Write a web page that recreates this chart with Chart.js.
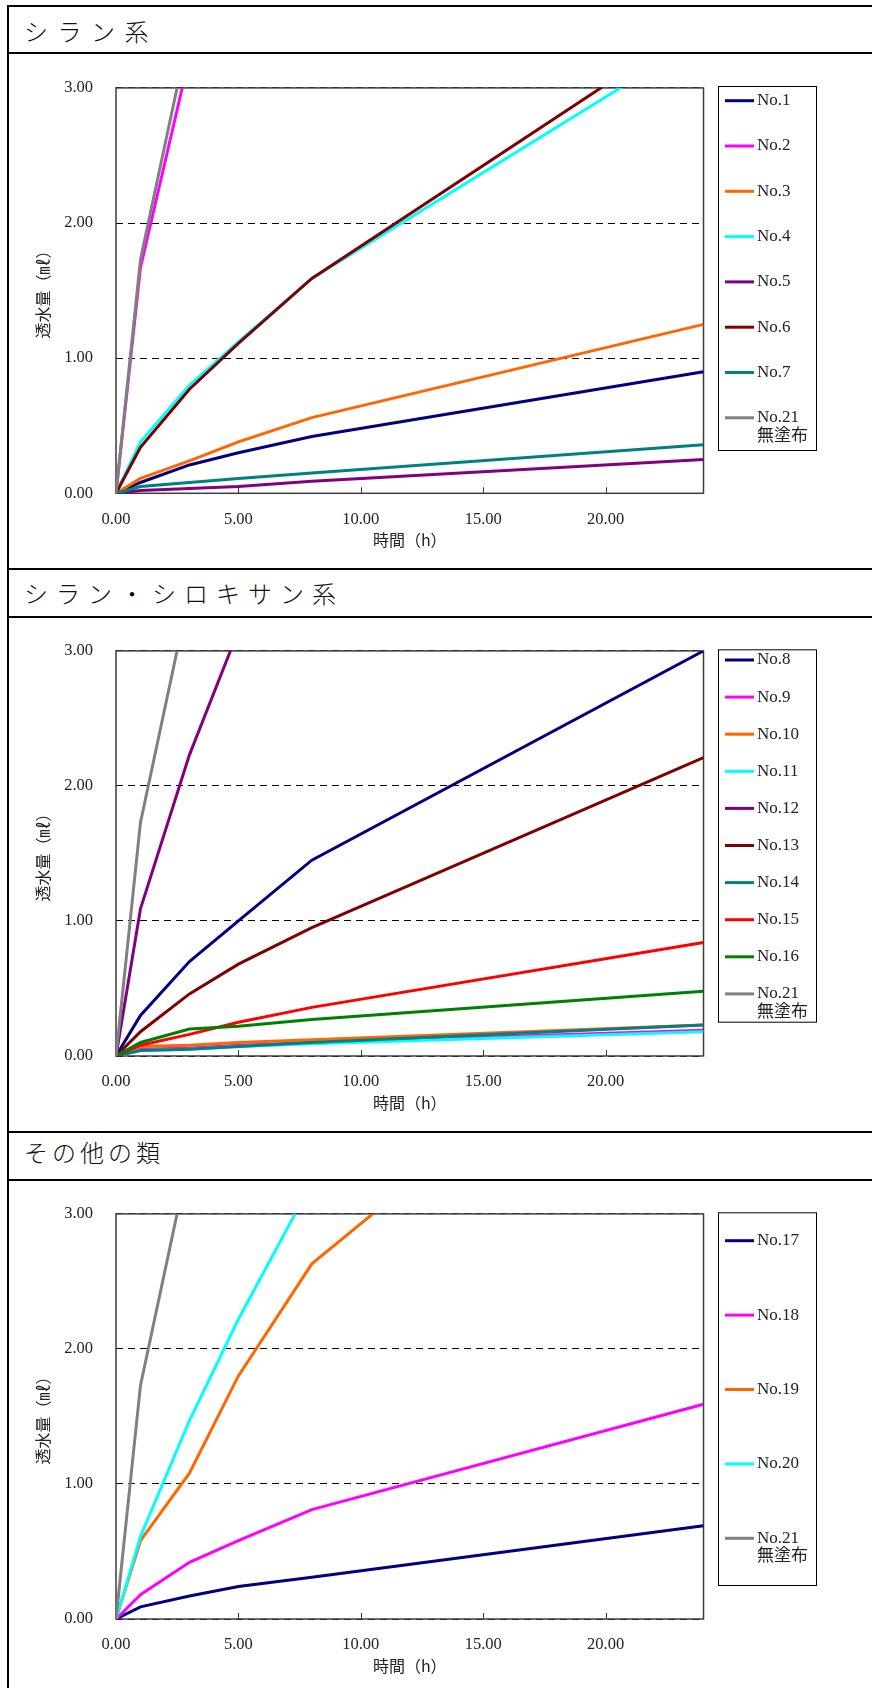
<!DOCTYPE html>
<html><head><meta charset="utf-8">
<script src="https://cdn.jsdelivr.net/npm/chart.js@4/dist/chart.umd.min.js"></script>
<style>
html,body{margin:0;padding:0;background:#fff;}
body{width:872px;height:1688px;position:relative;overflow:hidden;}
.hl{position:absolute;left:7px;right:0;height:2px;background:#000;}
.vl{position:absolute;left:7px;top:5px;width:2px;bottom:0;background:#000;}
.ttl{position:absolute;left:24px;font-family:"Noto Sans CJK JP";font-weight:300;font-size:24px;line-height:30px;color:#111;white-space:nowrap;}
canvas{position:absolute;left:0;}
</style></head><body>
<div class="vl"></div>
<div class="hl" style="top:5px"></div>
<div class="hl" style="top:52px"></div>
<div class="hl" style="top:568px"></div>
<div class="hl" style="top:616px"></div>
<div class="hl" style="top:1131px"></div>
<div class="hl" style="top:1179px"></div>
<div class="ttl" id="t1" style="top:16px;letter-spacing:9.5px">シラン系</div>
<div class="ttl" id="t2" style="top:578px;letter-spacing:8px">シラン・シロキサン系</div>
<div class="ttl" id="t3" style="top:1137px;letter-spacing:4px">その他の類</div>
<canvas id="c1" width="872" height="500" style="top:55px"></canvas>
<canvas id="c2" width="872" height="500" style="top:618px"></canvas>
<canvas id="c3" width="872" height="500" style="top:1181px"></canvas>
<script>
// ---- data ----
const hours = [0, 1, 3, 5, 8, 24];
const xTicks = [0, 5, 10, 15, 20];
const yTicks = [0, 1, 2, 3];

// シラン系
const no1  = [0, 0.08, 0.21, 0.30, 0.42, 0.90];
const no2  = [0, 1.67, 3.23, null, null, null];
const no3  = [0, 0.11, 0.24, 0.38, 0.56, 1.25];
const no4  = [0, 0.38, 0.80, 1.12, 1.59, 3.38];
const no5  = [0, 0.02, 0.035, 0.05, 0.09, 0.25];
const no6  = [0, 0.34, 0.77, 1.11, 1.59, 3.50];
const no7  = [0, 0.05, 0.08, 0.11, 0.15, 0.36];
const no21 = [0, 1.73, 3.43, null, null, null];

// シラン・シロキサン系
const no8  = [0, 0.30, 0.70, 1.00, 1.45, 3.00];
const no9  = [0, 0.05, 0.06, 0.08, 0.10, 0.19];
const no10 = [0, 0.07, 0.08, 0.10, 0.12, 0.23];
const no11 = [0, 0.04, 0.05, 0.07, 0.09, 0.18];
const no12 = [0, 1.09, 2.23, 3.15, null, null];
const no13 = [0, 0.18, 0.46, 0.68, 0.95, 2.21];
const no14 = [0, 0.04, 0.05, 0.07, 0.10, 0.23];
const no15 = [0, 0.08, 0.16, 0.25, 0.36, 0.84];
const no16 = [0, 0.10, 0.20, 0.22, 0.27, 0.48];

// その他の類
const no17 = [0, 0.09, 0.17, 0.24, 0.31, 0.69];
const no18 = [0, 0.18, 0.42, 0.58, 0.81, 1.59];
const no19 = [0, 0.58, 1.08, 1.80, 2.63, 5.01];
const no20 = [0, 0.61, 1.47, 2.22, 3.23, null];

const labels1 = ['No.1','No.2','No.3','No.4','No.5','No.6','No.7','No.21\n無塗布'];
const labels2 = ['No.8','No.9','No.10','No.11','No.12','No.13','No.14','No.15','No.16','No.21\n無塗布'];
const labels3 = ['No.17','No.18','No.19','No.20','No.21\n無塗布'];

// ---- styles ----
const NAVY='#000080', MAG='#FF00FF', ORG='#FF6600', CYAN='#00FFFF', PUR='#800080',
      MAR='#800000', TEAL='#008080', GRAY='#808080', RED='#FF0000', GRN='#008000';

Chart.defaults.font.family = '"Liberation Serif", "Noto Sans CJK JP"';
Chart.defaults.color = '#222';

const frame = {
  id: 'frame',
  beforeDatasetsDraw(chart) {
    const {ctx, chartArea: a, scales: {x}} = chart;
    ctx.save();
    ctx.strokeStyle = '#3c3c3c';
    ctx.lineWidth = 1.5;
    ctx.strokeRect(a.left, a.top, a.right - a.left, a.bottom - a.top);
    ctx.lineWidth = 1;
    ctx.beginPath();
    xTicks.forEach(v => {
      if (v === 0) return;
      const px = Math.round(x.getPixelForValue(v)) + 0.5;
      ctx.moveTo(px, a.bottom); ctx.lineTo(px, a.bottom - 6);
    });
    ctx.stroke();
    ctx.restore();
  }
};

const boxLegend = {
  id: 'boxLegend',
  afterDraw(chart, args, o) {
    const ctx = chart.ctx;
    ctx.save();
    ctx.strokeStyle = '#000'; ctx.lineWidth = 1;
    ctx.strokeRect(o.left + 0.5, o.top + 0.5, o.width, o.height);
    chart.data.datasets.forEach((ds, i) => {
      const y = o.first + i * o.step;
      ctx.strokeStyle = ds.borderColor; ctx.lineWidth = 3; ctx.lineCap = 'butt';
      ctx.beginPath(); ctx.moveTo(o.left + 7, y); ctx.lineTo(o.left + 36, y); ctx.stroke();
      ctx.fillStyle = '#222';
      ctx.font = '17px "Liberation Serif", "Noto Sans CJK JP"';
      ctx.textBaseline = 'middle'; ctx.textAlign = 'left';
      ds.label.split('\n').forEach((t, k) => ctx.fillText(t, o.left + 39, y + k * 18.5));
    });
    ctx.restore();
  }
};

function makeChart(id, series, labels, colors, lay) {
  const datasets = series.map((s, i) => ({
    label: labels[i],
    data: hours.map((h, k) => ({x: h, y: s[k]})),
    borderColor: colors[i],
    backgroundColor: colors[i],
    borderWidth: 3,
    pointRadius: 0,
    tension: 0,
    fill: false,
    order: -i
  }));
  return new Chart(document.getElementById(id), {
    type: 'line',
    data: {datasets},
    plugins: [frame, boxLegend],
    options: {
      responsive: false,
      animation: false,
      events: [],
      layout: {padding: {left: 0, right: 168.5, top: lay.padTop, bottom: lay.padBottom}},
      plugins: {
        legend: {display: false},
        tooltip: {enabled: false},
        boxLegend: lay.legend
      },
      scales: {
        x: {
          type: 'linear', min: 0, max: 24,
          afterBuildTicks: s => { s.ticks = xTicks.map(v => ({value: v})); },
          afterFit: s => { s.height = 60; },
          grid: {display: false},
          border: {display: false},
          ticks: {padding: 8, maxRotation: 0, font: {size: 16.5}, callback: v => Number(v).toFixed(2)},
          title: {display: true, text: '時間（h）', font: {family: '"Noto Sans CJK JP"', size: 16}, padding: {top: 0, bottom: 3.4}}
        },
        y: {
          type: 'linear', min: 0, max: 3,
          afterBuildTicks: s => { s.ticks = yTicks.map(v => ({value: v})); },
          afterFit: s => { s.width = 116; },
          grid: {color: '#000', lineWidth: 1, drawTicks: false},
          border: {display: false, dash: [7, 5]},
          ticks: {padding: 23, font: {size: 16.5}, callback: v => Number(v).toFixed(2)},
          title: {display: true, text: '透水量（㎖）', font: {family: '"Noto Sans CJK JP"', size: 16}, padding: {top: 33.4, bottom: 0}}
        }
      }
    }
  });
}

makeChart('c1', [no1, no2, no3, no4, no5, no6, no7, no21], labels1,
  [NAVY, MAG, ORG, CYAN, PUR, MAR, TEAL, GRAY],
  {padTop: 31.7, padBottom: 1.7, legend: {left: 718, width: 98, top: 31, height: 364, first: 45.7, step: 45.3}});

makeChart('c2', [no8, no9, no10, no11, no12, no13, no14, no15, no16, no21], labels2,
  [NAVY, MAG, ORG, CYAN, PUR, MAR, TEAL, RED, GRN, GRAY],
  {padTop: 31.5, padBottom: 2, legend: {left: 718, width: 98, top: 31.3, height: 372.4, first: 42, step: 37.1}});

makeChart('c3', [no17, no18, no19, no20, no21], labels3,
  [NAVY, MAG, ORG, CYAN, GRAY],
  {padTop: 31.7, padBottom: 2, legend: {left: 718, width: 98, top: 31.3, height: 372.7, first: 59.7, step: 74.4}});
</script>
</body></html>
